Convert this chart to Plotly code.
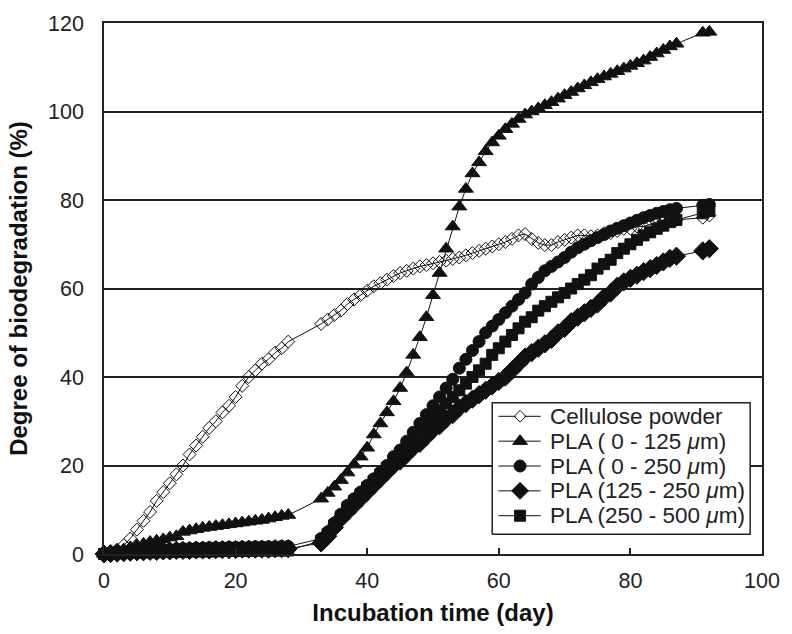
import plotly.graph_objects as go

# Sampling days (no measurements between day 28 and 33, nor 87 and 91)
days = list(range(0, 29)) + list(range(33, 88)) + [91, 92]

cellulose = [
    0, 0.5, 1, 2, 3.5, 5.5, 7.5, 9.5, 12, 14, 16, 18, 20, 22.5, 24.5, 26.5, 28.5, 30, 32,
    33.5, 35.5, 38, 40, 41.5, 43, 44, 45.5, 46.5, 48,
    52, 53, 54, 55, 56.5, 57.5, 58.5, 59.5, 60.5, 61.2, 62, 62.8, 63.5, 64, 64.5, 65,
    65.3, 65.7, 66, 66.3, 66.7, 67, 67.5, 68, 68.5, 69, 69.5, 70, 70.5, 71.2, 72, 72.3,
    71.2, 70.3, 69.8, 69.8, 70.5, 71, 71.5, 72, 72, 71.8, 72, 72.5, 72.5, 73, 73.5, 73.5,
    74, 74, 74.5, 75, 75, 75.5, 75.5,
    76, 76.5,
]

pla_0_125 = [
    0, 0.3, 0.6, 1, 1.5, 2, 2.3, 2.7, 3, 3.3, 3.7, 4, 5, 5.3, 5.6, 5.9, 6.1, 6.3, 6.5,
    6.7, 6.9, 7.1, 7.3, 7.5, 7.7, 8, 8.3, 8.6, 8.8,
    12.5, 13.8, 15.2, 16.7, 18.4, 20.2, 22, 24, 27, 29.5, 32, 34.5, 37.5, 41, 45, 49,
    53.5, 58.5, 63.5, 69, 74, 78.5, 82.5, 86, 88.5, 91, 93, 94.5, 96, 97.2, 98.3, 99.3,
    100, 100.7, 101.4, 102.1, 102.9, 103.7, 104.4, 105.2, 105.9, 106.6, 107.3, 107.9,
    108.5, 109.1, 109.7, 110.3, 110.9, 111.5, 112.3, 113.1, 113.9, 114.7, 115.3,
    117.8, 118,
]

pla_0_250 = [
    0, 0.2, 0.4, 0.5, 0.6, 0.7, 0.8, 0.8, 0.9, 1.0, 1.0, 1.1, 1.2, 1.2, 1.3, 1.3, 1.4,
    1.4, 1.4, 1.5, 1.5, 1.5, 1.5, 1.6, 1.6, 1.6, 1.6, 1.7, 1.7,
    3.5, 5, 7, 9, 11, 12.5, 14, 15.5, 17, 18.5, 20, 22, 23.5, 25.5, 27.5, 29.5, 31.5,
    33.5, 35.5, 37.5, 39.5, 42, 44, 46, 48, 50, 51.5, 53, 54.5, 56, 57.5, 59, 61, 62.5,
    64, 65, 66, 67, 68.2, 69.2, 70, 70.8, 71.5, 72.2, 73, 73.6, 74.2, 74.8, 75.4, 76,
    76.5, 77, 77.4, 77.8, 78.1,
    78.8, 79,
]

pla_125_250 = [
    0, 0.1, 0.2, 0.3, 0.4, 0.5, 0.5, 0.6, 0.6, 0.7, 0.7, 0.8, 0.8, 0.8, 0.9, 0.9, 0.9,
    1.0, 1.0, 1.0, 1.0, 1.1, 1.1, 1.1, 1.1, 1.1, 1.2, 1.2, 1.2,
    2.5, 4, 6, 8, 9.5, 11, 12.5, 14, 15.5, 17, 18.5, 20, 21, 22.5, 24, 25, 26.5, 28, 29,
    30.5, 31.5, 33, 34, 35, 36, 37, 38, 39, 40, 41.5, 43, 44.5, 45.5, 46.5, 47.5, 48.5,
    50, 51, 52.5, 53.5, 54.5, 55.5, 56.5, 58, 59, 60.5, 61.5, 62.3, 63, 63.8, 64.5,
    65.2, 66, 66.8, 67.3,
    68.5, 69,
]

pla_250_500 = [
    0, 0.1, 0.2, 0.2, 0.3, 0.3, 0.4, 0.4, 0.4, 0.5, 0.5, 0.5, 0.5, 0.6, 0.6, 0.6, 0.6,
    0.6, 0.7, 0.7, 0.7, 0.7, 0.7, 0.8, 0.8, 0.8, 0.8, 0.8, 0.8,
    3, 4.5, 6.5, 8.5, 10.5, 12, 13.5, 15, 16.5, 18, 19.5, 21, 22.5, 24, 25.5, 27, 29, 31,
    32.5, 34, 35.5, 37, 38.5, 40, 41.5, 43, 45, 46.5, 48, 49.5, 51, 52.5, 53.5, 55, 56,
    57, 58, 59, 60, 61, 62, 63, 64.5, 65.5, 66.5, 68, 69, 70, 71, 72, 72.7, 73.5, 74.2,
    75, 75.5,
    77, 77.5,
]

# name, values, symbol, marker size on the curve, marker size in the key
series = [
    ("Cellulose powder", cellulose, "diamond-open", 10, 9),
    ("PLA ( 0 - 125 <i>μ</i>m)", pla_0_125, "triangle-up", 13, 13),
    ("PLA ( 0 - 250 <i>μ</i>m)", pla_0_250, "circle", 12, 12),
    ("PLA (125 - 250 <i>μ</i>m)", pla_125_250, "diamond", 14, 13),
    ("PLA (250 - 500 <i>μ</i>m)", pla_250_500, "square", 11, 11),
]

ink = "#111111"
text_color = "#222222"
font_family = "Liberation Sans, Arial, sans-serif"

fig = go.Figure()
for name, vals, symbol, size, _ in series:
    fig.add_trace(go.Scatter(
        x=days, y=vals, name=name, mode="lines+markers",
        line=dict(color=ink, width=1),
        marker=dict(symbol=symbol, size=size, color=ink,
                    line=dict(color=ink, width=1)),
        cliponaxis=False, showlegend=False,
    ))

# Key box, drawn on an overlay subplot whose axes run 0..1 across the plot area
box_x0, box_x1, box_y0, box_y1 = 0.590, 0.982, 0.037, 0.285
row_top, row_step = 0.2593, 0.0468
key_line_x0, key_line_x1, key_mark_x, key_text_x = 0.5994, 0.6637, 0.6323, 0.6741

fig.add_trace(go.Scatter(
    x=[box_x0, box_x1, box_x1, box_x0, box_x0],
    y=[box_y0, box_y0, box_y1, box_y1, box_y0],
    mode="lines", fill="toself", fillcolor="white",
    line=dict(color=text_color, width=1.5),
    xaxis="x2", yaxis="y2", hoverinfo="skip", showlegend=False,
))

annotations = []
for i, (name, _, symbol, _, key_size) in enumerate(series):
    ry = row_top - i * row_step
    fig.add_trace(go.Scatter(
        x=[key_line_x0, key_line_x1], y=[ry, ry], mode="lines",
        line=dict(color=ink, width=1),
        xaxis="x2", yaxis="y2", hoverinfo="skip", showlegend=False,
    ))
    if symbol.endswith("-open"):
        # white centre so the key line does not show through the open symbol
        fig.add_trace(go.Scatter(
            x=[key_mark_x], y=[ry], mode="markers",
            marker=dict(symbol="diamond", size=key_size - 2, color="white"),
            xaxis="x2", yaxis="y2", hoverinfo="skip", showlegend=False,
        ))
    fig.add_trace(go.Scatter(
        x=[key_mark_x], y=[ry], mode="markers",
        marker=dict(symbol=symbol, size=key_size, color=ink,
                    line=dict(color=ink, width=1)),
        xaxis="x2", yaxis="y2", hoverinfo="skip", showlegend=False,
    ))
    annotations.append(dict(
        text=name, x=key_text_x, y=ry, xref="paper", yref="paper",
        xanchor="left", yanchor="middle", showarrow=False,
        font=dict(family=font_family, size=22.5, color=text_color),
    ))

fig.update_layout(
    width=792, height=634,
    margin=dict(l=104, r=19, t=17, b=77),
    paper_bgcolor="white", plot_bgcolor="white",
    font=dict(family=font_family, color=text_color, size=21.5),
    showlegend=False,
    annotations=annotations,
    xaxis=dict(
        range=[0, 100], tickvals=[0, 20, 40, 60, 80, 100],
        ticks="inside", ticklen=6, tickwidth=1.5, tickcolor=text_color,
        ticklabelstandoff=6,
        showline=True, linecolor=text_color, linewidth=1.5, mirror=True,
        showgrid=False, zeroline=False,
        title=dict(text="<b>Incubation time (day)</b>", standoff=13,
                   font=dict(size=24, color=ink)),
    ),
    yaxis=dict(
        range=[0, 120], tickvals=[0, 20, 40, 60, 80, 100, 120],
        ticks="", ticklabelstandoff=14,
        showline=True, linecolor=text_color, linewidth=1.5, mirror=True,
        showgrid=True, gridcolor=text_color, gridwidth=1.5, zeroline=False,
        title=dict(text="<b>Degree of biodegradation (%)</b>", standoff=14,
                   font=dict(size=24, color=ink)),
    ),
    xaxis2=dict(overlaying="x", anchor="y2", range=[0, 1], visible=False,
                fixedrange=True),
    yaxis2=dict(overlaying="y", anchor="x2", range=[0, 1], visible=False,
                fixedrange=True),
)

fig.write_html("out.html")
